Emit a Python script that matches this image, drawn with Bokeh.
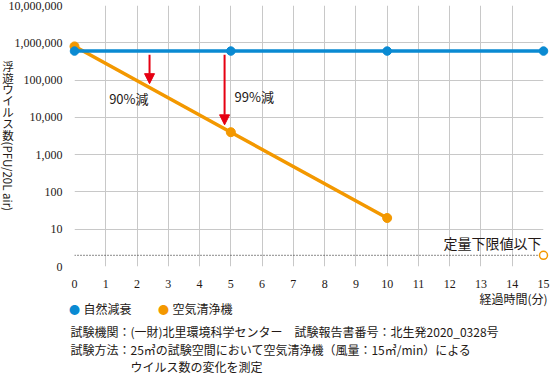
import math
from bokeh.plotting import figure
from bokeh.models import (FixedTicker, Label, Arrow, NormalHead, Span,
                          NumeralTickFormatter)
from bokeh.core.properties import value
from bokeh.embed import file_html
from bokeh.resources import INLINE

# ---------------- data ----------------
x_ticks = list(range(16))
y_tick_values = [1, 10, 100, 1000, 10000, 100000, 1000000, 10000000]
y_tick_labels = ["0", "10", "100", "1,000", "10,000", "100,000", "1,000,000", "10,000,000"]

series_names = ["自然減衰", "空気清浄機"]
natural_time = [0, 5, 10, 15]
natural_decay = [600000, 600000, 600000, 600000]
purifier_time = [0, 5, 10]
purifier = [800000, 4000, 20]
below_limit_time = [15]
below_limit_value = [2]
detection_limit = 2
detection_label = "定量下限値以下"

reduction_x = [2.4, 4.8]
reduction_from = [480000, 480000]
reduction_to = [80000, 6300]
reduction_labels = ["90%減", "99%減"]

x_title = "経過時間(分)"
y_title_cjk = "浮遊ウイルス数"
y_title_latin = "(PFU/20L air)"
footer_lines = [
    "試験機関：(一財)北里環境科学センター　試験報告書番号：北生発2020_0328号",
    "試験方法：25㎥の試験空間において空気清浄機（風量：15㎥/min）による",
    "ウイルス数の変化を測定",
]

# ---------------- style / layout ----------------
BLUE = "#0a8ad2"
ORANGE = "#f39800"
RED = "#e60012"
GRID = "#c8c8c8"
TXT = "#231815"
JP = "Noto Sans CJK JP"
NUM = "Liberation Sans Narrow"

X0, Y0 = x_ticks[0], y_tick_values[0]   # frame corner (bottom-left) used as text anchor

p = figure(width=550, height=374, y_axis_type="log",
           x_range=(x_ticks[0], x_ticks[-1]), y_range=(y_tick_values[0], y_tick_values[-1]),
           output_backend="svg", toolbar_location=None,
           min_border_left=74, min_border_right=7,
           min_border_top=5, min_border_bottom=108)
p.outline_line_color = None
p.background_fill_color = "white"

p.xaxis.ticker = FixedTicker(ticks=x_ticks)
p.yaxis.ticker = FixedTicker(ticks=y_tick_values)
p.yaxis.formatter = NumeralTickFormatter(format="0,0")
p.yaxis.major_label_overrides = {v: l for v, l in zip(y_tick_values, y_tick_labels)}
for ax in (p.xaxis, p.yaxis):
    ax.axis_line_color = None
    ax.major_tick_line_color = None
    ax.minor_tick_line_color = None
    ax.major_label_text_font = NUM
    ax.major_label_text_font_size = "12px"
    ax.major_label_text_color = TXT
p.xaxis.major_label_standoff = 7
p.yaxis.major_label_standoff = 6

p.xgrid.grid_line_color = GRID
p.ygrid.grid_line_color = GRID
p.xgrid.grid_line_width = 1
p.ygrid.grid_line_width = 1

# detection limit dotted line
p.add_layout(Span(location=detection_limit, dimension="width",
                  line_color="#444444", line_width=1.3, line_dash="1 2"))

# series
p.line(purifier_time, purifier, line_color=ORANGE, line_width=3.5)
p.line(natural_time, natural_decay, line_color=BLUE, line_width=3.5)
p.scatter(purifier_time, purifier, size=9, fill_color=ORANGE,
          line_color=ORANGE, level="overlay")
p.scatter(natural_time, natural_decay, size=8.5, fill_color=BLUE,
          line_color=BLUE, level="overlay")
p.scatter(below_limit_time, below_limit_value, size=8, fill_color="white",
          line_color=ORANGE, line_width=1.5, level="overlay")

# reduction arrows
for xa, y0, y1 in zip(reduction_x, reduction_from, reduction_to):
    p.add_layout(Arrow(x_start=xa, y_start=y0, x_end=xa, y_end=y1,
                       line_color=RED, line_width=2,
                       end=NormalHead(size=10, fill_color=RED, line_color=RED)))
p.add_layout(Label(x=reduction_x[0], y=reduction_to[0], text=reduction_labels[0],
                   text_align="right", text_baseline="middle", x_offset=-1, y_offset=-15,
                   text_font=JP, text_font_size="13px", text_color=TXT))
p.add_layout(Label(x=reduction_x[1], y=reduction_to[1], text=reduction_labels[1],
                   text_align="left", text_baseline="middle", x_offset=10, y_offset=28,
                   text_font=JP, text_font_size="13px", text_color=TXT))

p.add_layout(Label(x=x_ticks[-1], y=detection_limit, text=detection_label,
                   text_align="right", text_baseline="middle", x_offset=-2, y_offset=12,
                   text_font=JP, text_font_size="14px", text_color=TXT))


def outside_text(dx, dy, text, size="12px", align="left", angle=0.0, color=TXT):
    """Text glyph anchored at the frame's bottom-left corner, offset in pixels
    (dy positive = downwards); overlay level so it is not clipped to the frame."""
    p.text(x=[X0], y=[Y0], text=[text], x_offset=dx, y_offset=dy, angle=angle,
           text_align=align, text_baseline="middle", text_font=value(JP),
           text_font_size=size, text_color=color, level="overlay")


# axis titles
outside_text(473, 32, x_title, align="right")
for i, ch in enumerate(y_title_cjk):
    outside_text(-66.5, (65.7 + 11.4 * i) - 266, ch, size="11.5px", align="center")
outside_text(-66.5, 141 - 266, y_title_latin, size="11.5px", angle=-math.pi / 2)

# legend: coloured dot + series name
legend_dot_x = [0, 89]
for dot_x, col, name in zip(legend_dot_x, [BLUE, ORANGE], series_names):
    outside_text(dot_x, 42, "●", size="11px", align="center", color=col)
    outside_text(dot_x + 9, 42, name)

# footer
outside_text(-4, 65, footer_lines[0])
outside_text(-4, 83, footer_lines[1])
outside_text(56, 100, footer_lines[2])

open("out.html", "w").write(file_html(p, INLINE))
